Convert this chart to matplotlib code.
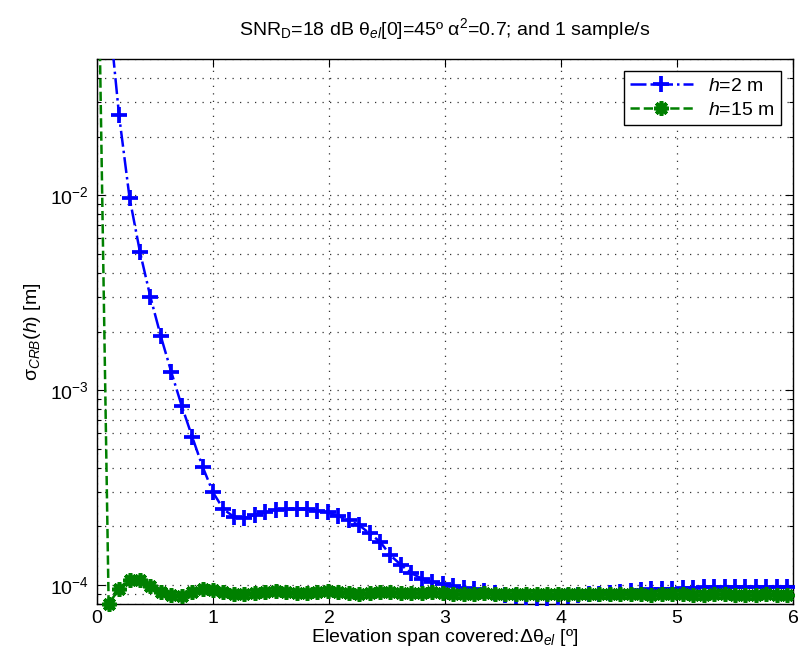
import matplotlib
matplotlib.use("Agg")
import matplotlib.pyplot as plt
import numpy as np
from matplotlib.ticker import LogLocator, NullFormatter, FixedLocator

plt.rcParams['font.family'] = ['Liberation Sans', 'DejaVu Sans']
plt.rcParams['mathtext.fontset'] = 'custom'
plt.rcParams['mathtext.rm'] = 'Liberation Sans'
plt.rcParams['mathtext.it'] = 'Liberation Sans:italic'
plt.rcParams['mathtext.bf'] = 'Liberation Sans:bold'

# Elevation span covered (deg)
span = [0.01, 0.10, 0.19, 0.28, 0.37, 0.46, 0.55, 0.64, 0.73, 0.82,
        0.91, 1.00, 1.09, 1.18, 1.27, 1.36, 1.45, 1.54, 1.63, 1.72,
        1.81, 1.90, 1.99, 2.08, 2.17, 2.26, 2.35, 2.44, 2.53, 2.62,
        2.71, 2.80, 2.89, 2.98, 3.07, 3.16, 3.25, 3.34, 3.43, 3.52,
        3.61, 3.70, 3.79, 3.88, 3.97, 4.06, 4.15, 4.24, 4.33, 4.42,
        4.51, 4.60, 4.69, 4.78, 4.87, 4.96, 5.05, 5.14, 5.23, 5.32,
        5.41, 5.50, 5.59, 5.68, 5.77, 5.86, 5.95]

# sigma_CRB(h) for h = 2 m
sigma_h2 = [2.0, 0.09, 0.0257, 0.00973, 0.00512, 0.00301, 0.00189, 0.00124, 8.31e-4, 5.77e-4,
            4.05e-4, 2.99e-4, 2.45e-4, 2.24e-4, 2.21e-4, 2.29e-4, 2.38e-4, 2.43e-4, 2.45e-4, 2.46e-4,
            2.45e-4, 2.41e-4, 2.36e-4, 2.26e-4, 2.15e-4, 2.03e-4, 1.84e-4, 1.67e-4, 1.42e-4, 1.27e-4,
            1.15e-4, 1.08e-4, 1.04e-4, 1.01e-4, 0.99e-4, 0.97e-4, 0.95e-4, 0.93e-4, 0.91e-4, 0.89e-4,
            0.875e-4, 0.865e-4, 0.86e-4, 0.86e-4, 0.865e-4, 0.875e-4, 0.885e-4, 0.895e-4, 0.905e-4, 0.915e-4,
            0.925e-4, 0.935e-4, 0.94e-4, 0.95e-4, 0.955e-4, 0.96e-4, 0.965e-4, 0.97e-4, 0.975e-4, 0.98e-4,
            0.98e-4, 0.98e-4, 0.98e-4, 0.98e-4, 0.975e-4, 0.975e-4, 0.975e-4]

# sigma_CRB(h) for h = 15 m
sigma_h15 = [0.2, 8.0e-5, 0.956e-4, 1.067e-4, 1.06e-4, 0.995e-4, 0.92e-4, 0.89e-4, 0.876e-4, 0.923e-4,
             0.96e-4, 0.94e-4, 0.918e-4, 0.90e-4, 0.90e-4, 0.91e-4, 0.92e-4, 0.93e-4, 0.92e-4, 0.915e-4,
             0.915e-4, 0.925e-4, 0.935e-4, 0.925e-4, 0.91e-4, 0.905e-4, 0.91e-4, 0.92e-4, 0.92e-4, 0.915e-4,
             0.91e-4, 0.915e-4, 0.92e-4, 0.915e-4, 0.905e-4, 0.90e-4, 0.905e-4, 0.91e-4, 0.905e-4, 0.90e-4,
             0.895e-4, 0.90e-4, 0.905e-4, 0.90e-4, 0.895e-4, 0.90e-4, 0.905e-4, 0.90e-4, 0.895e-4, 0.895e-4,
             0.90e-4, 0.90e-4, 0.895e-4, 0.89e-4, 0.895e-4, 0.90e-4, 0.895e-4, 0.89e-4, 0.89e-4, 0.895e-4,
             0.895e-4, 0.89e-4, 0.885e-4, 0.89e-4, 0.895e-4, 0.89e-4, 0.885e-4]

labels = [r'$h$=2 m', r'$h$=15 m']
x_ticks = [0, 1, 2, 3, 4, 5, 6]
y_lim = (8.0e-5, 0.05)

fig = plt.figure(figsize=(7.98, 6.66), dpi=100)
ax = fig.add_axes([0.1216, 0.0931, 0.8721, 0.8183])

series = [(sigma_h2, '#0000ff', '-.', '+', 12, 2.7, labels[0]),
          (sigma_h15, '#008000', '--', (8, 2, 0), 10.5, 2.6, labels[1])]
xs = np.array(span)
for vals, col, ls, mk, ms, mew, lab in series:
    v = np.array(vals)
    ax.plot(xs, v, color=col, linestyle=ls, linewidth=1.8, zorder=3)
    inside = (v >= y_lim[0]) & (v <= y_lim[1])
    ax.plot(xs[inside], v[inside], linestyle='none', color=col, marker=mk,
            markersize=ms, markeredgewidth=mew, clip_on=False, zorder=4)
    ax.plot([], [], color=col, linestyle=ls, linewidth=1.8, marker=mk,
            markersize=ms, markeredgewidth=mew, label=lab)

ax.set_yscale('log')
ax.set_xlim(0, 6)
ax.set_ylim(*y_lim)
ax.xaxis.set_major_locator(FixedLocator(x_ticks))
ax.yaxis.set_major_locator(LogLocator(base=10, numticks=10))
ax.yaxis.set_minor_locator(LogLocator(base=10, subs=range(2, 10), numticks=20))
ax.yaxis.set_minor_formatter(NullFormatter())

ax.grid(True, which='major', axis='both', linestyle=(0, (1, 5)), color='#333333', linewidth=0.9)
ax.grid(True, which='minor', axis='y', linestyle=(0, (1, 5)), color='#333333', linewidth=0.9)

ax.tick_params(which='both', direction='in', top=True, right=True, labelsize=14, pad=6)
ax.tick_params(axis='x', which='major', pad=4)
ax.tick_params(which='major', length=6, width=0.8)
ax.tick_params(which='minor', length=3, width=0.8)
for s in ax.spines.values():
    s.set_linewidth(1.0)

ax.set_title(r'SNR$_\mathrm{D}$=18 dB $\mathrm{\theta}_{el}$[0]=45º $\mathrm{\alpha}^2$=0.7; and 1 sample/s',
             fontsize=14, pad=17)
ax.set_xlabel(r'Elevation span covered:$\mathrm{\Delta\theta}_{el}$ [º]', fontsize=14, labelpad=0)
ax.set_ylabel(r'$\mathrm{\sigma}_{CRB}(h)$ [m]', fontsize=14, labelpad=5)

leg = ax.legend(loc='upper right', fontsize=14, frameon=True, fancybox=False,
                edgecolor='black', framealpha=1, borderaxespad=0.6,
                handlelength=3.2, borderpad=0.35, labelspacing=0.3)
leg.get_frame().set_linewidth(1.0)

fig.savefig('out.png', dpi=100)
